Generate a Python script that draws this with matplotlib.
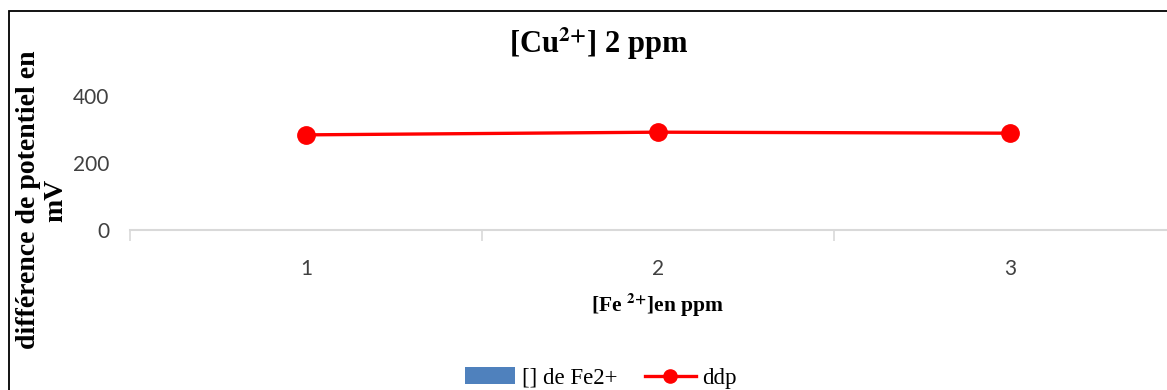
import matplotlib
matplotlib.use("Agg")
import matplotlib.pyplot as plt
from matplotlib.patches import Rectangle, Patch
from matplotlib.lines import Line2D
from matplotlib.ticker import FixedLocator

# data
fe_ppm = [1, 2, 3]
ddp_mv = [284, 292, 289]
fe_bars = [0, 0, 0]
y_ticks = [0, 200, 400]

SERIF = "Liberation Serif"
SANS = "Lato"

fig = plt.figure(figsize=(11.67, 3.9), dpi=100, facecolor="white")

# chart frame (runs off the right and bottom edges)
fig.patches.append(Rectangle((9 / 1167, -0.2), 1.5, 1.2 - 11 / 390,
                             transform=fig.transFigure, fill=False,
                             edgecolor="black", linewidth=1.3))

ax = fig.add_axes([130 / 1167, 1 - 230 / 390, 1056 / 1167, 134 / 390])
ax.set_facecolor("none")

ax.bar(fe_ppm, fe_bars, width=0.6, color="#4f81bd")
ax.plot(fe_ppm, ddp_mv, color="#ff0000", linewidth=2.4,
        marker="o", markersize=12.5, zorder=3)

ax.set_xlim(0.5, 3.5)
ax.set_ylim(0, 400)
ax.set_yticks(y_ticks)
ax.set_xticks(fe_ppm)
ax.xaxis.set_minor_locator(FixedLocator([0.5, 1.5, 2.5, 3.5]))

for side in ["top", "right", "left"]:
    ax.spines[side].set_visible(False)
ax.spines["bottom"].set_color("#d9d9d9")
ax.spines["bottom"].set_linewidth(1.5)

ax.tick_params(axis="y", length=0, pad=15, labelsize=15, labelcolor="#404040")
ax.tick_params(axis="x", which="major", length=0, pad=21,
               labelsize=15, labelcolor="#404040")
ax.tick_params(axis="x", which="minor", length=8, width=1.2,
               color="#d9d9d9", direction="out")
for lbl in ax.get_xticklabels() + ax.get_yticklabels():
    lbl.set_fontfamily(SANS)

fig.text(599 / 1167, 1 - 44 / 390, r"[Cu$^{\mathbf{2{+}}}$] 2 ppm",
         ha="center", va="center", fontsize=22, fontweight="bold",
         fontfamily=SERIF, math_fontfamily="stix")

fig.text(42 / 1167, 1 - 200 / 390, "différence de potentiel en\nmV",
         rotation=90, ha="center", va="center", fontsize=20,
         fontweight="bold", fontfamily=SERIF, linespacing=1.1)

fig.text(657 / 1167, 1 - 305 / 390, r"[Fe $^{\mathbf{2{+}}}$]en ppm",
         ha="center", va="center", fontsize=15.5, fontweight="bold",
         fontfamily=SERIF, math_fontfamily="stix")

handles = [Patch(facecolor="#4f81bd", edgecolor="none"),
           Line2D([0], [0], color="#ff0000", linewidth=2.4,
                  marker="o", markersize=9.5)]
fig.legend(handles, ["[] de Fe2+", "ddp"], loc="center",
           bbox_to_anchor=(601 / 1167, 1 - 378 / 390), ncol=2, frameon=False,
           prop={"family": SERIF, "size": 16.5}, handlelength=2.2,
           handleheight=0.7, columnspacing=1.2, handletextpad=0.3)

fig.savefig("out.png", dpi=100, facecolor="white")
